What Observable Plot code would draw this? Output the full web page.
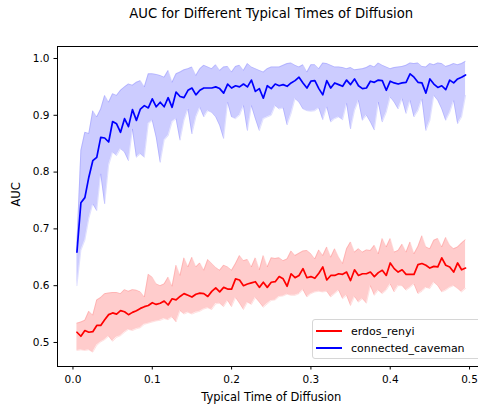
<!DOCTYPE html>
<html><head><meta charset="utf-8">
<script src="https://cdn.jsdelivr.net/npm/d3@7"></script>
<script src="https://cdn.jsdelivr.net/npm/@observablehq/plot@0.6"></script>
<style>
body{margin:0;background:#fff;font-family:"DejaVu Sans",sans-serif}
#wrap{position:relative;width:478px;height:407px;overflow:hidden}
#legend{position:absolute;left:312px;top:319px;width:170px;height:40px;border:1px solid #d6d6d6;border-radius:3px;background:rgba(255,255,255,0.85);font-size:11px;box-sizing:border-box}
.row{position:absolute;left:3px;height:14px;display:flex;align-items:center}
.sw{width:26px;height:0;border-top:2px solid;margin-right:9px}
</style></head><body><div id="wrap"><div id="legend"></div></div>
<script>
const times = [0.005,0.01,0.015,0.02,0.025,0.03,0.035,0.04,0.045,0.05,0.055,0.06,0.065,0.07,0.075,0.08,0.085,0.09,0.095,0.1,
0.105,0.11,0.115,0.12,0.125,0.13,0.135,0.14,0.145,0.15,0.155,0.16,0.165,0.17,0.175,0.18,0.185,0.19,0.195,0.2,
0.205,0.21,0.215,0.22,0.225,0.23,0.235,0.24,0.245,0.25,0.255,0.26,0.265,0.27,0.275,0.28,0.285,0.29,0.295,0.3,
0.305,0.31,0.315,0.32,0.325,0.33,0.335,0.34,0.345,0.35,0.355,0.36,0.365,0.37,0.375,0.38,0.385,0.39,0.395,0.4,
0.405,0.41,0.415,0.42,0.425,0.43,0.435,0.44,0.445,0.45,0.455,0.46,0.465,0.47,0.475,0.48,0.485,0.49,0.495];

const cavemanMean = [0.659,0.746,0.755,0.791,0.820,0.826,0.861,0.860,0.853,0.889,0.885,0.870,0.894,0.880,0.910,0.891,0.911,0.917,0.913,0.929,
0.915,0.923,0.915,0.931,0.914,0.941,0.933,0.931,0.944,0.948,0.936,0.944,0.948,0.948,0.948,0.950,0.947,0.939,0.955,0.948,
0.952,0.950,0.955,0.950,0.962,0.942,0.947,0.930,0.952,0.947,0.955,0.952,0.954,0.951,0.957,0.961,0.967,0.957,0.948,0.960,
0.961,0.947,0.936,0.961,0.948,0.957,0.954,0.951,0.962,0.954,0.964,0.952,0.947,0.948,0.960,0.958,0.962,0.961,0.944,0.960,
0.957,0.955,0.957,0.958,0.973,0.967,0.958,0.957,0.939,0.964,0.955,0.949,0.952,0.945,0.962,0.957,0.964,0.967,0.971];
const cavemanHigh = [0.675,0.838,0.870,0.868,0.908,0.897,0.911,0.935,0.923,0.938,0.935,0.944,0.950,0.955,0.953,0.958,0.961,0.950,0.973,0.973,
0.972,0.970,0.967,0.979,0.958,0.973,0.976,0.980,0.982,0.985,0.970,0.982,0.988,0.985,0.982,0.989,0.979,0.985,0.986,0.976,
0.986,0.988,0.979,0.991,0.985,0.982,0.979,0.976,0.982,0.985,0.985,0.985,0.988,0.991,0.992,0.988,0.985,0.989,0.976,0.989,
0.989,0.982,0.992,0.991,0.988,0.985,0.985,0.984,0.982,0.984,0.980,0.981,0.982,0.984,0.988,0.985,0.992,0.988,0.985,0.982,
0.984,0.985,0.986,0.988,0.992,0.991,0.992,0.986,0.985,0.991,0.989,0.992,0.991,0.986,0.988,0.991,0.989,0.991,0.995];
const cavemanLow = [0.600,0.662,0.680,0.718,0.744,0.732,0.797,0.744,0.812,0.835,0.829,0.841,0.835,0.820,0.876,0.826,0.832,0.826,0.885,0.891,
0.861,0.817,0.856,0.864,0.888,0.894,0.856,0.891,0.911,0.867,0.897,0.914,0.897,0.908,0.905,0.897,0.882,0.859,0.923,0.897,
0.894,0.900,0.917,0.873,0.917,0.894,0.873,0.894,0.897,0.900,0.917,0.911,0.913,0.883,0.903,0.929,0.923,0.911,0.908,0.907,
0.908,0.913,0.892,0.915,0.888,0.894,0.897,0.892,0.921,0.876,0.908,0.926,0.891,0.900,0.888,0.874,0.923,0.888,0.905,0.932,
0.923,0.911,0.929,0.903,0.926,0.897,0.908,0.929,0.873,0.891,0.935,0.926,0.911,0.891,0.905,0.926,0.885,0.897,0.935];

const erdosMean = [0.518,0.511,0.521,0.518,0.519,0.530,0.530,0.540,0.549,0.552,0.550,0.556,0.554,0.549,0.553,0.556,0.560,0.563,0.565,0.570,
0.567,0.569,0.573,0.566,0.577,0.575,0.581,0.586,0.583,0.580,0.585,0.587,0.586,0.581,0.590,0.596,0.589,0.597,0.594,0.594,
0.612,0.610,0.600,0.603,0.605,0.607,0.597,0.606,0.597,0.606,0.607,0.616,0.612,0.599,0.621,0.614,0.618,0.630,0.614,0.616,
0.613,0.622,0.633,0.610,0.618,0.618,0.621,0.620,0.624,0.609,0.628,0.618,0.621,0.621,0.624,0.616,0.623,0.627,0.618,0.640,
0.630,0.624,0.628,0.620,0.620,0.620,0.637,0.639,0.636,0.631,0.634,0.633,0.649,0.636,0.633,0.624,0.640,0.628,0.631];
const erdosHigh = [0.534,0.536,0.539,0.555,0.548,0.575,0.579,0.586,0.587,0.588,0.588,0.586,0.593,0.590,0.593,0.592,0.589,0.580,0.620,0.615,
0.603,0.600,0.603,0.615,0.599,0.636,0.618,0.649,0.633,0.650,0.633,0.640,0.627,0.646,0.639,0.632,0.627,0.636,0.633,0.627,
0.639,0.653,0.644,0.646,0.633,0.649,0.628,0.653,0.633,0.649,0.648,0.649,0.644,0.647,0.661,0.653,0.657,0.661,0.662,0.656,
0.647,0.663,0.653,0.668,0.650,0.665,0.650,0.639,0.665,0.677,0.659,0.665,0.659,0.663,0.662,0.671,0.656,0.683,0.668,0.683,
0.659,0.662,0.673,0.659,0.677,0.656,0.669,0.688,0.668,0.665,0.680,0.683,0.668,0.685,0.671,0.665,0.668,0.675,0.681];
const erdosLow = [0.486,0.487,0.486,0.487,0.483,0.495,0.501,0.505,0.511,0.502,0.509,0.512,0.518,0.523,0.521,0.524,0.526,0.532,0.534,0.536,
0.538,0.539,0.542,0.540,0.545,0.536,0.556,0.550,0.553,0.550,0.553,0.555,0.559,0.561,0.558,0.568,0.569,0.563,0.574,0.563,
0.579,0.569,0.558,0.571,0.567,0.579,0.571,0.562,0.568,0.574,0.575,0.581,0.582,0.585,0.583,0.583,0.586,0.593,0.580,0.586,
0.589,0.590,0.589,0.590,0.580,0.586,0.592,0.577,0.583,0.565,0.581,0.571,0.577,0.569,0.600,0.583,0.592,0.586,0.592,0.603,
0.589,0.600,0.600,0.592,0.597,0.603,0.586,0.590,0.597,0.595,0.606,0.600,0.589,0.592,0.597,0.600,0.595,0.589,0.595];

const seriesNames = ["erdos_renyi", "connected_caveman"];
const seriesColors = ["#ff0000", "#0000ff"];
const xTicks = [0.0, 0.1, 0.2, 0.3, 0.4, 0.5];
const yTicks = [0.5, 0.6, 0.7, 0.8, 0.9, 1.0];
const titleText = "AUC for Different Typical Times of Diffusion";
const xLabel = "Typical Time of Diffusion";
const yLabel = "AUC";

const rows = [];
times.forEach((t, i) => {
  rows.push({series: seriesNames[0], t, mean: erdosMean[i], lo: erdosLow[i], hi: erdosHigh[i]});
});
times.forEach((t, i) => {
  rows.push({series: seriesNames[1], t, mean: cavemanMean[i], lo: cavemanLow[i], hi: cavemanHigh[i]});
});

const color = {domain: seriesNames, range: seriesColors};
const fmt = d => d.toFixed(1);

const chart = Plot.plot({
  width: 478, height: 407,
  marginLeft: 57, marginRight: -6.5, marginTop: 46, marginBottom: 41,
  x: {domain: [-0.0195, 0.5195]},
  y: {domain: [0.4577, 1.0211]},
  color,
  style: {fontFamily: "DejaVu Sans", fontSize: "10.5px", color: "black", background: "white"},
  marks: [
    Plot.areaY(rows, {x: "t", y1: "lo", y2: "hi", z: "series", fill: "series", fillOpacity: 0.2}),
    Plot.lineY(rows, {x: "t", y: "lo", z: "series", stroke: "series", strokeOpacity: 0.12, strokeWidth: 1}),
    Plot.lineY(rows, {x: "t", y: "hi", z: "series", stroke: "series", strokeOpacity: 0.12, strokeWidth: 1}),
    Plot.lineY(rows, {x: "t", y: "mean", z: "series", stroke: "series", strokeWidth: 1.7}),
    Plot.frame({stroke: "black", strokeWidth: 1}),
    Plot.axisX({ticks: xTicks, tickFormat: fmt, tickSize: 3.5, tickPadding: 6, label: null, fontSize: 10.5}),
    Plot.axisY({ticks: yTicks, tickFormat: fmt, tickSize: 3.5, tickPadding: 4.5, label: null, fontSize: 10.5}),
    Plot.text([titleText], {frameAnchor: "top", lineAnchor: "middle", dy: -33, fontSize: 13.2, fill: "black"}),
    Plot.text([xLabel], {frameAnchor: "bottom", lineAnchor: "middle", dy: 31, fontSize: 11.5, fill: "black"}),
    Plot.text([yLabel], {frameAnchor: "left", lineAnchor: "middle", rotate: -90, dx: -41, fontSize: 11.5, fill: "black"})
  ]
});
const wrap = document.getElementById("wrap");
wrap.insertBefore(chart, wrap.firstChild);

const legend = document.getElementById("legend");
seriesNames.forEach((name, i) => {
  const r = document.createElement("div");
  r.className = "row";
  r.style.top = (4 + i * 17) + "px";
  const sw = document.createElement("span");
  sw.className = "sw";
  sw.style.borderTopColor = seriesColors[i];
  const tx = document.createElement("span");
  tx.textContent = name;
  r.appendChild(sw); r.appendChild(tx);
  legend.appendChild(r);
});
</script></body></html>
